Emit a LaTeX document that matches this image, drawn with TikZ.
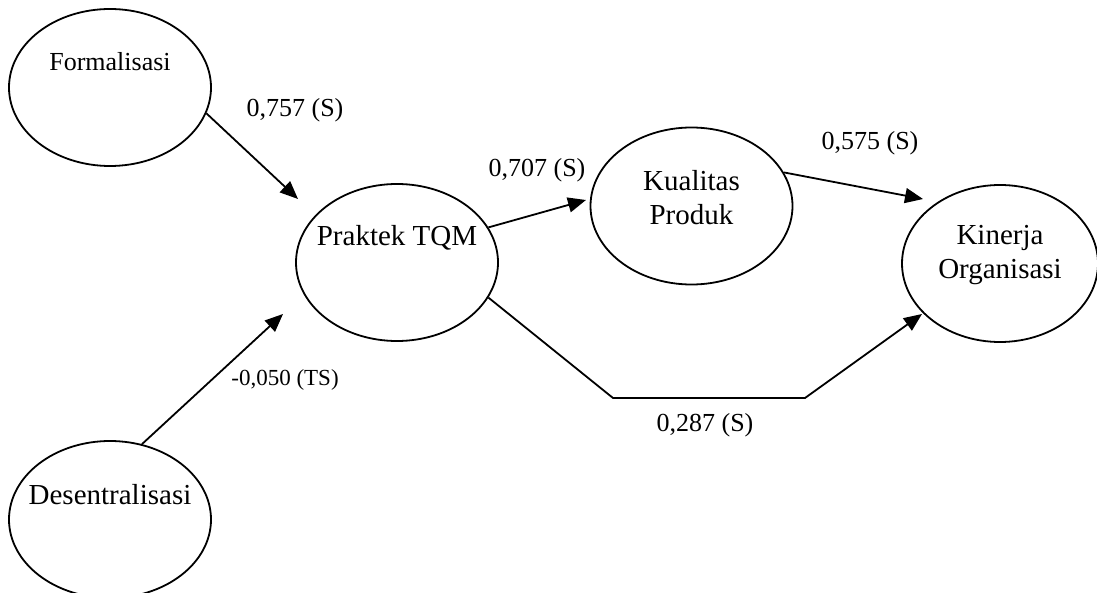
\documentclass[tikz,border=0pt]{standalone}
\usepackage{fontspec}
\setmainfont{Liberation Serif}
\usetikzlibrary{shapes.geometric,arrows.meta}
\begin{document}
\begin{tikzpicture}[x=1pt,y=-1pt,
  latent/.style={draw,ellipse,line width=1.8pt,minimum width=202pt,minimum height=157pt,inner sep=0pt},
  big/.style={font=\fontsize{29}{34}\selectfont,align=center},
  mid/.style={font=\fontsize{26}{30}\selectfont},
  small/.style={font=\fontsize{23}{27}\selectfont},
  conn/.style={line width=1.8pt,-{Triangle[length=18pt,width=15pt]}}]
\useasboundingbox (0,0) rectangle (1097,593);
% ellipses
\node[latent] (form) at (110,87.5) {};
\node[latent] (des) at (110,519.5) {};
\node[latent] (tqm) at (397,262.5) {};
\node[latent] (kual) at (691.5,206) {};
\node[latent,minimum width=196pt] (kin) at (1000,263.5) {};
% texts
\node[mid] (formt) at (110,62) {Formalisasi};
\node[big] (dest) at (110,495) {Desentralisasi};
\node[big] (tqmt) at (397,238) {Praktek TQM};
\node[big] (kualt) at (691.5,198) {Kualitas\\[0pt]Produk};
\node[big] (kint) at (1000,255) {Kinerja\\[0pt]Organisasi};
% tips and bends
\coordinate (t1) at (298,199);
\coordinate (t2) at (283,314);
\coordinate (t3) at (586,200);
\coordinate (t4) at (923,199);
\coordinate (t5) at (922,314);
\coordinate (b1) at (613,398);
\coordinate (b2) at (805,398);
% connectors
\draw[conn] (form.-15) -- (t1);
\draw[conn] (des.67) -- (t2);
\draw[conn] (tqm.21) -- (t3);
\draw[conn] (kual.20) -- (t4);
\draw[conn] (tqm.-21) -- (b1) -- (b2) -- (t5);
% labels
\node[mid] (l1) at (295,110) {0,757 (S)};
\node[small] (l2) at (285,380) {-0,050 (TS)};
\node[mid] (l3) at (537,170) {0,707 (S)};
\node[mid] (l4) at (870,143) {0,575 (S)};
\node[mid] (l5) at (705,425) {0,287 (S)};
\end{tikzpicture}
\end{document}
